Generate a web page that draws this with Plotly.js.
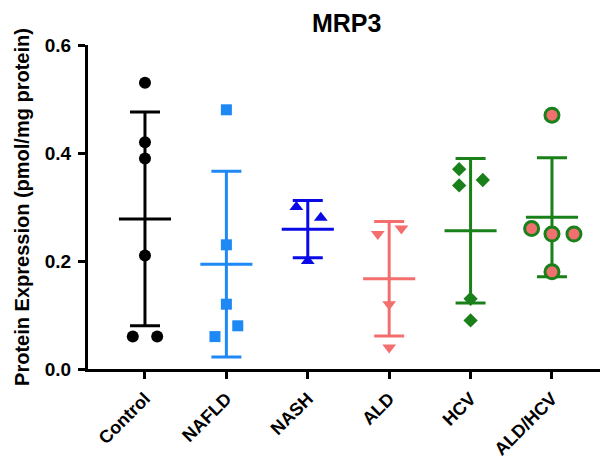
<!DOCTYPE html>
<html><head><meta charset="utf-8">
<script src="https://cdn.plot.ly/plotly-3.0.1.min.js"></script>
<style>html,body{margin:0;padding:0;background:#fff}#chart{width:603px;height:463px}</style>
</head><body><div id="chart"></div>
<script>
const categories = ["Control","NAFLD","NASH","ALD","HCV","ALD/HCV"];
const controlVals = [0.53,0.42,0.39,0.21,0.06,0.06];
const nafldVals   = [0.48,0.23,0.12,0.08,0.06];
const nashVals    = [0.30,0.28,0.20];
const aldVals     = [0.25,0.26,0.12,0.04];
const hcvVals     = [0.37,0.34,0.35,0.13,0.09];
const aldHcvVals  = [0.47,0.26,0.25,0.25,0.18];
// horizontal jitter of each point (category units)
const controlJit = [0,0,0,0,-0.15,0.15];
const nafldJit   = [0,0,0,0.14,-0.14];
const nashJit    = [-0.14,0.16,0];
const aldJit     = [-0.14,0.15,0,0];
const hcvJit     = [-0.14,-0.14,0.15,0,0];
const aldHcvJit  = [0,-0.25,0,0.27,0];
const means = [0.278,0.194,0.259,0.167,0.256,0.281];
const sds   = [0.198,0.172,0.053,0.106,0.134,0.110];
const yTicks = [0,0.2,0.4,0.6];
const yTickText = ["0.0","0.2","0.4","0.6"];

const colors = ["#000000","#1E88F5","#0A0AE6","#F46E6E","#1A801A","#1A801A"];
const groups = [
  {v:controlVals,j:controlJit,m:{symbol:"circle",size:12,color:"#000000"}},
  {v:nafldVals,j:nafldJit,m:{symbol:"square",size:11,color:"#1E88F5"}},
  {v:nashVals,j:nashJit,m:{symbol:"triangle-up",size:12,color:"#0A0AE6"}},
  {v:aldVals,j:aldJit,m:{symbol:"triangle-down",size:12,color:"#F46E6E"}},
  {v:hcvVals,j:hcvJit,m:{symbol:"diamond",size:11,color:"#1A801A"}},
  {v:aldHcvVals,j:aldHcvJit,m:{symbol:"circle",size:14,color:"#F07070",line:{color:"#1A801A",width:3}}}
];
const traces = [];
groups.forEach((g,i)=>{
  traces.push({x:[i],y:[means[i]],type:"scatter",mode:"markers",
    marker:{size:1,color:"rgba(0,0,0,0)"},
    error_y:{type:"data",array:[sds[i]],visible:true,width:15,thickness:3,color:colors[i]},
    hoverinfo:"skip",showlegend:false});
  traces.push({x:[i-0.32,i+0.32],y:[means[i],means[i]],type:"scatter",mode:"lines",
    line:{color:colors[i],width:3},hoverinfo:"skip",showlegend:false});
});
groups.forEach((g,i)=>{
  traces.push({x:g.v.map((_,k)=>i+g.j[k]),y:g.v,type:"scatter",mode:"markers",
    marker:g.m,showlegend:false,cliponaxis:false});
});
const layout = {
  width:603,height:463,
  margin:{l:88,r:3,t:45,b:94},
  paper_bgcolor:"#fff",plot_bgcolor:"#fff",
  font:{family:"Liberation Sans, Arial, sans-serif",color:"#000"},
  title:{text:"MRP3",font:{size:25,weight:"bold",color:"#000"},x:0.575,xanchor:"center",y:0.95,yanchor:"middle"},
  xaxis:{range:[-0.70,5.59],tickvals:[0,1,2,3,4,5],ticktext:categories,tickangle:-45,ticklabelstandoff:2,
    showline:true,linewidth:3,linecolor:"#000",ticks:"outside",ticklen:7,tickwidth:3,tickcolor:"#000",
    showgrid:false,zeroline:false,tickfont:{size:18,weight:"bold",color:"#000"}},
  yaxis:{range:[0,0.6],tickvals:yTicks,ticktext:yTickText,ticklabelstandoff:3,
    showline:true,linewidth:3,linecolor:"#000",ticks:"outside",ticklen:7,tickwidth:3,tickcolor:"#000",
    showgrid:false,zeroline:false,tickfont:{size:19,weight:"bold",color:"#000"},
    title:{text:"Protein Expression (pmol/mg protein)",font:{size:20,weight:"bold",color:"#000"},standoff:10}}
};
Plotly.newPlot("chart",traces,layout,{displayModeBar:false,staticPlot:true});
</script></body></html>
